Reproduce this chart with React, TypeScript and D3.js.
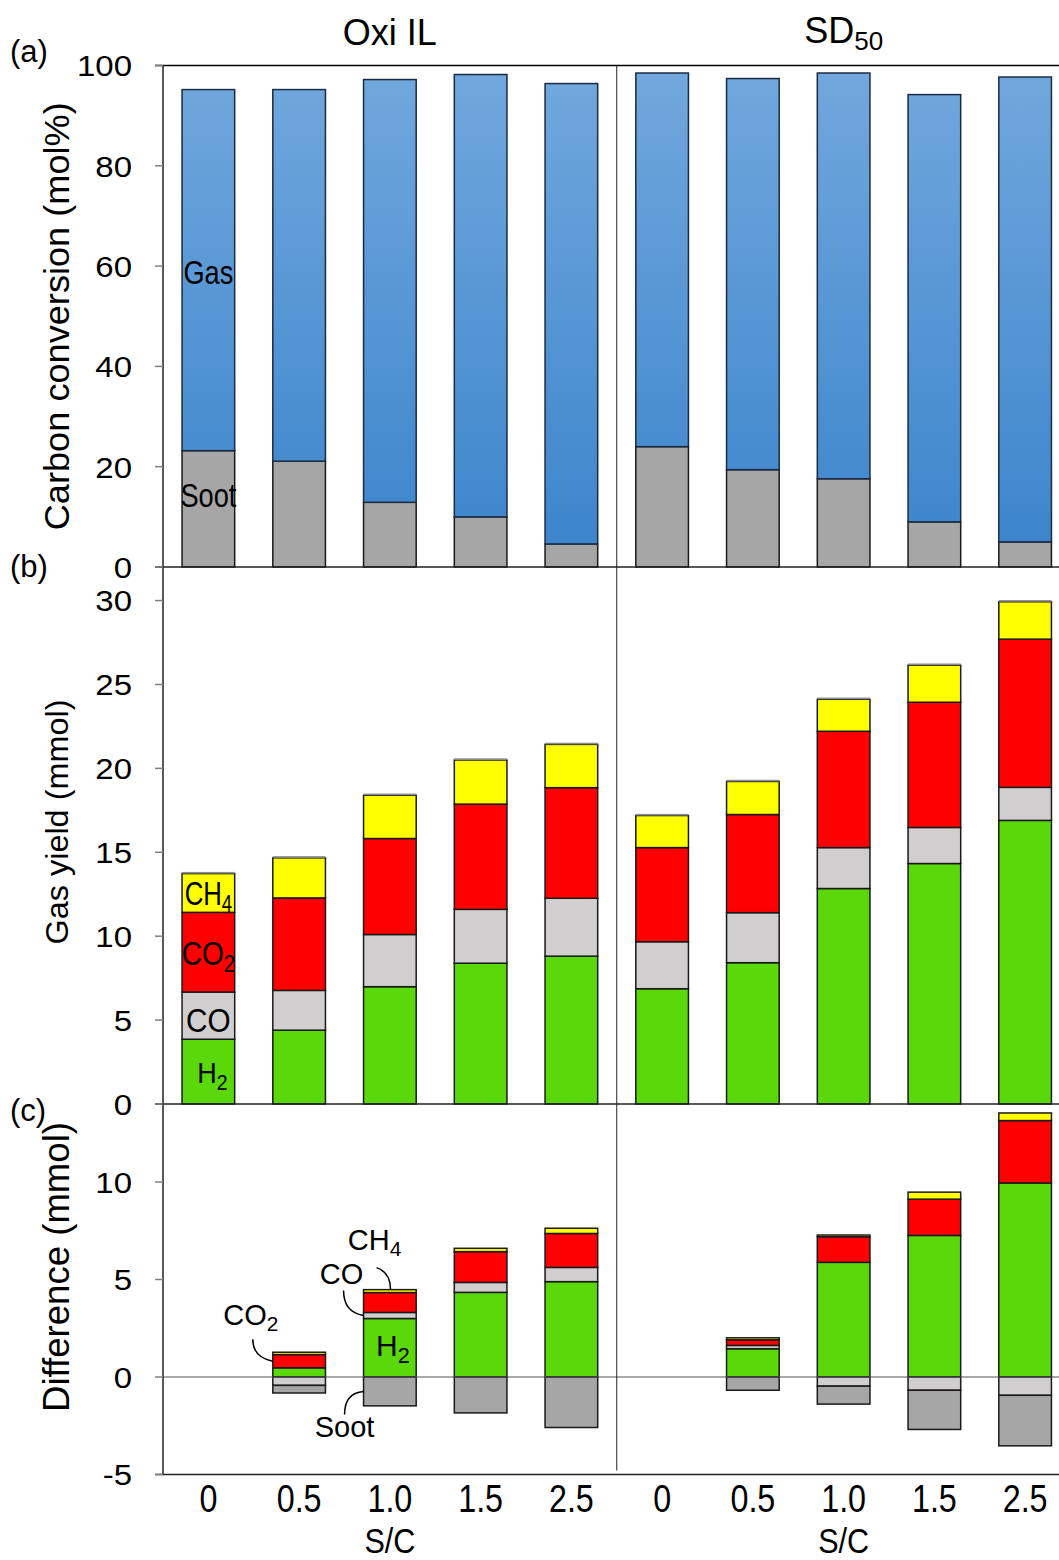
import React from "react";
import * as d3 from "d3";

// ---------- data ----------
const GROUPS = ["Oxi IL", "SD50"];
const SC_LABELS = ["0", "0.5", "1.0", "1.5", "2.5"];

// (a) carbon conversion (mol%)
const sootOxiA = [23.2, 21.1, 12.9, 10.0, 4.6];
const gasOxiA = [72.0, 74.1, 84.3, 88.2, 91.8];
const sootSdA = [24.0, 19.4, 17.6, 9.0, 5.0];
const gasSdA = [74.5, 78.0, 80.9, 85.2, 92.7];

// (b) gas yield (mmol)
const h2Oxi = [3.86, 4.4, 6.99, 8.39, 8.81];
const coOxi = [2.81, 2.37, 3.11, 3.21, 3.45];
const co2Oxi = [4.75, 5.51, 5.72, 6.27, 6.59];
const ch4Oxi = [2.31, 2.39, 2.58, 2.63, 2.58];
const otherOxi = [0.1, 0.1, 0.1, 0.1, 0.1];
const h2Sd = [6.87, 8.42, 12.84, 14.33, 16.9];
const coSd = [2.8, 2.98, 2.44, 2.15, 1.97];
const co2Sd = [5.61, 5.85, 6.93, 7.46, 8.83];
const ch4Sd = [1.91, 1.97, 1.91, 2.21, 2.23];
const otherSd = [0.1, 0.1, 0.1, 0.1, 0.1];

// (c) difference (mmol)
const dH2Oxi = [0, 0.47, 3.0, 4.34, 4.89];
const dCoOxi = [0, -0.43, 0.31, 0.51, 0.73];
const dCo2Oxi = [0, 0.68, 1.02, 1.58, 1.74];
const dCh4Oxi = [0, 0.12, 0.15, 0.17, 0.27];
const dSootOxi = [0, -0.39, -1.48, -1.84, -2.59];
const dH2Sd = [0, 1.45, 5.88, 7.26, 9.95];
const dCoSd = [0, 0.17, -0.47, -0.68, -0.94];
const dCo2Sd = [0, 0.29, 1.31, 1.86, 3.2];
const dCh4Sd = [0, 0.1, 0.09, 0.36, 0.39];
const dSootSd = [0, -0.68, -0.92, -2.01, -2.59];

const TICKS_A = [0, 20, 40, 60, 80, 100];
const TICKS_B = [0, 5, 10, 15, 20, 25, 30];
const TICKS_C = [-5, 0, 5, 10];

const COLORS: Record<string, string> = {
  soot: "#a6a6a6",
  gas: "url(#gasGrad)",
  h2: "#5ad80a",
  co: "#d0cece",
  co2: "#ff0000",
  ch4: "#ffff00",
  other: "#8c8c8c",
};

const FONT = "'Liberation Sans', Arial, Helvetica, sans-serif";

function rowsFrom(keys: string[], oxi: number[][], sd: number[][]) {
  const rows: Record<string, number>[] = [];
  for (let g = 0; g < 2; g++) {
    const src = g === 0 ? oxi : sd;
    for (let i = 0; i < 5; i++) {
      const r: Record<string, number> = { idx: g * 5 + i };
      keys.forEach((k, j) => (r[k] = src[j][i]));
      rows.push(r);
    }
  }
  return rows;
}

export default function App() {
  const W = 1059;
  const H = 1560;
  const x = d3
    .scaleBand<number>()
    .domain(d3.range(10))
    .range([163, 1070.5])
    .paddingInner(0.42)
    .paddingOuter(0.21);
  const bw = x.bandwidth();
  const cx = (i: number) => (x(i) as number) + bw / 2;

  const yA = d3.scaleLinear().domain([0, 100]).range([567, 65.5]);
  const yB = d3.scaleLinear().domain([0, 32]).range([1104, 567]);
  const yC = d3.scaleLinear().domain([-5, 14]).range([1474.5, 1104]);

  const keysA = ["soot", "gas"];
  const rowsA = rowsFrom(keysA, [sootOxiA, gasOxiA], [sootSdA, gasSdA]);
  const keysB = ["h2", "co", "co2", "ch4", "other"];
  const rowsB = rowsFrom(
    keysB,
    [h2Oxi, coOxi, co2Oxi, ch4Oxi, otherOxi],
    [h2Sd, coSd, co2Sd, ch4Sd, otherSd]
  );
  const keysC = ["h2", "co", "co2", "ch4", "soot"];
  const rowsC = rowsFrom(
    keysC,
    [dH2Oxi, dCoOxi, dCo2Oxi, dCh4Oxi, dSootOxi],
    [dH2Sd, dCoSd, dCo2Sd, dCh4Sd, dSootSd]
  );

  const stackA = d3.stack<any>().keys(keysA)(rowsA);
  const stackB = d3.stack<any>().keys(keysB)(rowsB);
  const stackC = d3.stack<any>().keys(keysC).offset(d3.stackOffsetDiverging)(rowsC);

  const drawStack = (stack: any[], y: d3.ScaleLinear<number, number>, pfx: string) =>
    stack.map((layer: any) =>
      layer.map((d: any, i: number) => {
        const v0 = d[0];
        const v1 = d[1];
        if (Math.abs(v1 - v0) < 1e-9) return null;
        const top = y(Math.max(v0, v1));
        const bot = y(Math.min(v0, v1));
        const key = layer.key;
        const isOther = key === "other";
        return (
          <rect
            key={`${pfx}-${key}-${i}`}
            x={x(i) as number}
            y={top}
            width={bw}
            height={bot - top}
            fill={COLORS[key]}
            stroke={isOther ? "none" : key === "gas" ? "#1b2b44" : "#1a1a1a"}
            strokeWidth={1.5}
          />
        );
      })
    );

  const yTick = (y: number, label: string, k: string) => (
    <g key={k}>
      <line x1={155} x2={163} y1={y} y2={y} stroke="#808080" strokeWidth={1.5} />
      <text
        transform={`translate(132,${y}) scale(1.1,1)`}
        textAnchor="end"
        dy="0.36em"
        fontSize={30}
        fontFamily={FONT}
        fill="#000"
      >
        {label}
      </text>
    </g>
  );

  const divX = ((x(4) as number) + bw + (x(5) as number)) / 2;
  const groupCenters = [(cx(0) + cx(4)) / 2, (cx(5) + cx(9)) / 2];

  // annotation anchors in (c)
  const b1 = 1;
  const b2 = 2;
  const co2Mid = yC(dH2Oxi[b1] + dCo2Oxi[b1] / 2);
  const coMid = yC(dH2Oxi[b2] + dCoOxi[b2] / 2);
  const topB2 = yC(dH2Oxi[b2] + dCoOxi[b2] + dCo2Oxi[b2] + dCh4Oxi[b2]);
  const sootMid = yC(dSootOxi[b2] / 2);
  const xl1 = x(b1) as number;
  const xl2 = x(b2) as number;

  const inLabel = (
    label: string,
    sub: string | null,
    px: number,
    py: number,
    size: number,
    k: string,
    sx = 0.8
  ) => (
    <text
      key={k}
      transform={`translate(${px},${py}) scale(${sx},1)`}
      textAnchor="middle"
      fontSize={size}
      fontFamily={FONT}
      fill="#000"
    >
      {label}
      {sub && (
        <tspan fontSize={size * 0.72} dy={size * 0.22}>
          {sub}
        </tspan>
      )}
    </text>
  );

  return (
    <div style={{ position: "absolute", left: 0, top: 0 }}>
      <svg width={W} height={H} style={{ display: "block", background: "#fff" }}>
        <defs>
          <linearGradient id="gasGrad" gradientUnits="userSpaceOnUse" x1={0} y1={65} x2={0} y2={567}>
            <stop offset="0%" stopColor="#72a8dd" />
            <stop offset="100%" stopColor="#3a84cb" />
          </linearGradient>
        </defs>
        <rect x={0} y={0} width={W} height={H} fill="#fff" />

        {/* bars */}
        {drawStack(stackA, yA, "a")}
        {drawStack(stackB, yB, "b")}
        {drawStack(stackC, yC, "c")}

        {/* axes lines */}
        <line x1={155} x2={W} y1={yA(100)} y2={yA(100)} stroke="#000" strokeWidth={1.5} />
        <line x1={155} x2={W} y1={yA(0)} y2={yA(0)} stroke="#222" strokeWidth={1.5} />
        <line x1={155} x2={W} y1={yB(0)} y2={yB(0)} stroke="#222" strokeWidth={1.5} />
        <line x1={163} x2={W} y1={yC(0)} y2={yC(0)} stroke="#555" strokeWidth={1} />
        <line x1={155} x2={W} y1={yC(-5)} y2={yC(-5)} stroke="#222" strokeWidth={1.5} />
        <line x1={163} x2={163} y1={yA(100)} y2={yC(-5)} stroke="#222" strokeWidth={1.5} />
        <line x1={divX} x2={divX} y1={yA(100)} y2={yC(-5) - 4} stroke="#222" strokeWidth={1} />

        {/* y ticks */}
        {TICKS_A.map((t) => yTick(yA(t), String(t), `ta${t}`))}
        {TICKS_B.map((t) => yTick(yB(t), String(t), `tb${t}`))}
        {TICKS_C.map((t) => yTick(yC(t), String(t), `tc${t}`))}

        {/* x tick labels */}
        {d3.range(10).map((i) => (
          <text
            key={`xt${i}`}
            transform={`translate(${cx(i)},1512) scale(0.85,1)`}
            textAnchor="middle"
            fontSize={38}
            fontFamily={FONT}
            fill="#000"
          >
            {SC_LABELS[i % 5]}
          </text>
        ))}
        {groupCenters.map((gx, g) => (
          <text
            key={`sc${g}`}
            transform={`translate(${gx},1553) scale(0.85,1)`}
            textAnchor="middle"
            fontSize={36}
            fontFamily={FONT}
            fill="#000"
          >
            S/C
          </text>
        ))}

        {/* group titles */}
        <text x={groupCenters[0]} y={45} textAnchor="middle" fontSize={36} fontFamily={FONT} fill="#000">
          {GROUPS[0]}
        </text>
        <text x={groupCenters[1]} y={43} textAnchor="middle" fontSize={36} fontFamily={FONT} fill="#000">
          SD
          <tspan fontSize={26} dy={7}>
            50
          </tspan>
        </text>

        {/* panel labels */}
        <text x={10} y={62} fontSize={31} fontFamily={FONT} fill="#000">(a)</text>
        <text x={10} y={577} fontSize={31} fontFamily={FONT} fill="#000">(b)</text>
        <text x={10} y={1121} fontSize={31} fontFamily={FONT} fill="#000">(c)</text>

        {/* y titles */}
        <text
          transform={`translate(69,${(yA(0) + yA(100)) / 2 + 0}) rotate(-90)`}
          textAnchor="middle"
          fontSize={35}
          fontFamily={FONT}
          textLength={428}
          lengthAdjust="spacingAndGlyphs"
          fill="#000"
        >
          Carbon conversion (mol%)
        </text>
        <text
          transform={`translate(68,822) rotate(-90)`}
          textAnchor="middle"
          fontSize={32}
          fontFamily={FONT}
          textLength={245}
          lengthAdjust="spacingAndGlyphs"
          fill="#000"
        >
          Gas yield (mmol)
        </text>
        <text
          transform={`translate(69,1267) rotate(-90)`}
          textAnchor="middle"
          fontSize={36}
          fontFamily={FONT}
          textLength={290}
          lengthAdjust="spacingAndGlyphs"
          fill="#000"
        >
          Difference (mmol)
        </text>

        {/* in-bar labels (a) */}
        {inLabel("Gas", null, cx(0), 284, 34, "lgas")}
        {inLabel("Soot", null, cx(0), 507, 34, "lsoot")}
        {/* in-bar labels (b) */}
        {inLabel("CH", "4", cx(0), 905, 33, "lch4", 0.78)}
        {inLabel("CO", "2", cx(0), 965, 33, "lco2", 0.85)}
        {inLabel("CO", null, cx(0), 1032, 33, "lco", 0.9)}
        {inLabel("H", "2", cx(0) + 4, 1083, 30, "lh2", 0.9)}

        {/* annotations (c) */}
        <g fill="none" stroke="#000" strokeWidth={1.5}>
          <path d={`M${xl1 - 20},${co2Mid - 22} C${xl1 - 20},${co2Mid - 8} ${xl1 - 10},${co2Mid - 2} ${xl1},${co2Mid}`} />
          <path d={`M${xl2 - 20},${coMid - 25} C${xl2 - 20},${coMid - 10} ${xl2 - 12},${coMid - 2} ${xl2},${coMid}`} />
          <path d={`M${xl2 + 13},${topB2 - 22} C${xl2 + 22},${topB2 - 19} ${xl2 + 27},${topB2 - 12} ${xl2 + 27},${topB2}`} />
          <path d={`M${xl2 - 19},${sootMid + 23} C${xl2 - 19},${sootMid + 8} ${xl2 - 12},${sootMid + 1} ${xl2},${sootMid}`} />
        </g>
        {inLabel("CO", "2", xl1 - 22, 1325, 29, "acO2", 1)}
        {inLabel("CO", null, xl2 - 22, 1284, 29, "acO", 1)}
        {inLabel("CH", "4", xl2 + 11, 1250, 29, "acH4", 1)}
        {inLabel("Soot", null, xl2 - 19, 1437, 29, "asoot", 1)}
        {inLabel("H", "2", cx(b2) + 3, 1356, 30, "ah2", 1)}
      </svg>
    </div>
  );
}
